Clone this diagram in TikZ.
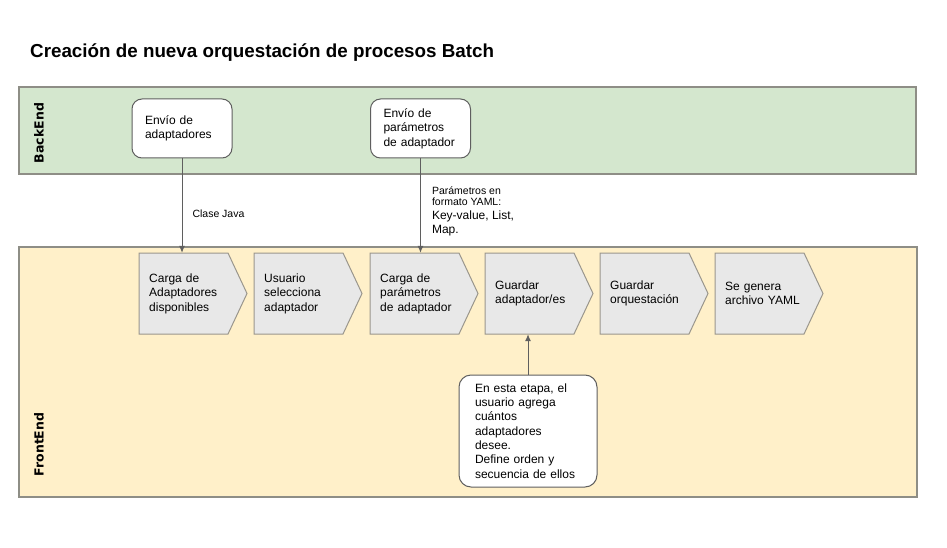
\documentclass[tikz,border=0pt]{standalone}
\usepackage{fontspec}
\setmainfont{Liberation Sans}
\newfontfamily\lanefont{DejaVu Sans}
\usepackage{tikz}
\usetikzlibrary{arrows.meta}
\definecolor{backfill}{HTML}{D4E7CE}
\definecolor{frontfill}{HTML}{FFF0C9}
\definecolor{laneline}{HTML}{8E8E86}
\definecolor{stagefill}{HTML}{E8E8E8}
\definecolor{stageline}{HTML}{9A968C}
\definecolor{boxline}{HTML}{5F5F5F}
\definecolor{arrowline}{HTML}{5F5F5F}
\tikzstyle{lane}=[draw=laneline,line width=1.2pt,inner sep=0pt]
\tikzstyle{lanelabel}=[rotate=90,inner sep=0pt,font=\lanefont\bfseries\fontsize{12.5}{14}\selectfont]
\tikzstyle{sender}=[draw=boxline,fill=white,rounded corners=10pt,line width=1pt,minimum height=59pt,inner xsep=13pt,text width=74pt,align=left,font=\fontsize{12}{14.5}\selectfont]
\tikzstyle{stageshape}=[draw=stageline,fill=stagefill,line width=1pt]
\tikzstyle{stage}=[inner sep=0pt,minimum height=81pt,text width=95pt,align=left,anchor=west,font=\fontsize{12}{14.6}\selectfont]
\tikzstyle{note}=[draw=boxline,fill=white,rounded corners=12pt,line width=1pt,minimum width=138pt,minimum height=112pt,inner xsep=16pt,text width=106pt,align=left,font=\fontsize{12}{14.3}\selectfont]
\tikzstyle{line}=[draw=arrowline,line width=1pt,-{Latex[length=7pt,width=6pt]}]
\begin{document}
\begin{tikzpicture}[x=1pt,y=-1pt]
  \useasboundingbox (0,0) rectangle (947,548);
  \node[anchor=base west,inner sep=0pt,font=\bfseries\fontsize{18.8}{22}\selectfont] (title) at (30,58) {Creación de nueva orquestación de procesos Batch};
  % lanes
  \node[lane,fill=backfill,minimum width=897pt,minimum height=87pt] (backend) at (467.5,130.5) {};
  \node[lane,fill=frontfill,minimum width=898pt,minimum height=250pt] (frontend) at (468,372) {};
  \node[lanelabel] (backlabel) at (39,133) {BackEnd};
  \node[lanelabel] (frontlabel) at (39,444.5) {FrontEnd};
  % backend
  \node[sender] (b1) at (182,128.5) {Envío de\\adaptadores};
  \node[sender] (b2) at (420.5,128.5) {Envío de\\parámetros\\de adaptador};
  % frontend stages
  \foreach \i/\x/\txt in {1/139/{Carga de\\Adaptadores\\disponibles},
                          2/254/{Usuario\\selecciona\\adaptador},
                          3/370/{Carga de\\parámetros\\de adaptador},
                          4/485/{Guardar\\adaptador/es},
                          5/600/{Guardar\\orquestación},
                          6/715/{Se genera\\archivo YAML}} {
    \filldraw[stageshape] (\x,253) -- ++(89,0) -- ++(19,40.5) -- ++(-19,40.5) -- ++(-89,0) -- cycle;
    \node[stage] (s\i) at (\x+10,293.5) {\txt};
  }
  \node[note] (note) at (528,431) {En esta etapa, el\\usuario agrega\\cuántos\\adaptadores\\desee.\\Define orden y\\secuencia de ellos};
  % connectors
  \path[line] (b1) -- (b1 |- s1.north)
    node[pos=0.59,anchor=west,xshift=10pt,inner sep=0pt,font=\fontsize{10.5}{12}\selectfont] (javalabel) {Clase Java};
  \path[line] (b2) -- (b2 |- s3.north)
    node[pos=0.56,anchor=west,xshift=11pt,inner sep=0pt,align=left,font=\fontsize{10.5}{11}\selectfont] (yamllabel)
    {Parámetros en\\formato YAML:\\[3pt]\fontsize{12}{14.5}\selectfont Key-value, List,\\[3pt]\fontsize{12}{14.5}\selectfont Map.};
  \path[line] (note) -- (note |- s4.south);
\end{tikzpicture}
\end{document}
